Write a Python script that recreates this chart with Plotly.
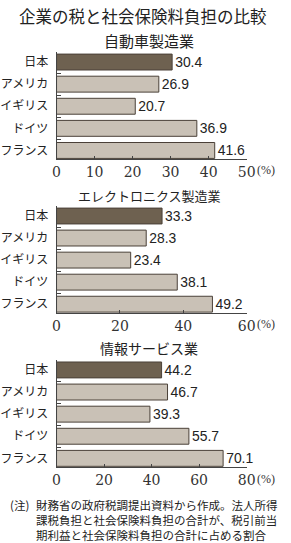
import plotly.graph_objects as go

W, H = 291, 543

countries = ["日本", "アメリカ", "イギリス", "ドイツ", "フランス"]
auto_vals = [30.4, 26.9, 20.7, 36.9, 41.6]
elec_vals = [33.3, 28.3, 23.4, 38.1, 49.2]
info_vals = [44.2, 46.7, 39.3, 55.7, 70.1]

panel_titles = ["自動車製造業", "エレクトロニクス製造業", "情報サービス業"]
x_max = [50, 60, 80]
x_dtick = [10, 20, 20]

main_title = "企業の税と社会保険料負担の比較"
note_head = "(注)"
note_lines = ["財務省の政府税調提出資料から作成。法人所得",
              "課税負担と社会保険料負担の合計が、税引前当",
              "期利益と社会保険料負担の合計に占める割合"]

DARK = "#6e6150"
LIGHT = "#c9c1b6"
EDGE = "#4a4038"
JP = "Noto Sans CJK JP"
SERIF = "DejaVu Serif"

def py(p):
    return 1 - p / H

# pixel layout (top, bottom) of each plot area
y_px = [(52.1, 159.3), (206.1, 313.0), (360.0, 467.2)]
x_dom = [55 / W, 254 / W]
title_px = [40, 195, 348]
ticklab_px = [169.5, 323.5, 478.5]
title_sizes = [15, 13, 14]

fig = go.Figure()
series = [auto_vals, elec_vals, info_vals]
for i, vals in enumerate(series):
    sfx = "" if i == 0 else str(i + 1)
    fig.add_trace(go.Bar(
        x=vals, y=countries, orientation="h",
        marker=dict(color=[DARK] + [LIGHT] * 4, line=dict(color=EDGE, width=1)),
        width=0.72,
        text=[f"{v:.1f}" for v in vals], textposition="outside",
        textfont=dict(family="Liberation Sans", size=14, color="#222"),
        cliponaxis=False,
        xaxis="x" + sfx, yaxis="y" + sfx, showlegend=False,
    ))
    top, bot = y_px[i]
    fig.update_layout(**{
        "xaxis" + sfx: dict(
            domain=x_dom, range=[0, x_max[i]], dtick=x_dtick[i], tick0=0,
            anchor="y" + sfx, showgrid=False, zeroline=False,
            showline=True, linecolor="#444", linewidth=1,
            ticks="inside", ticklen=3, tickcolor="#444",
            tickfont=dict(family=SERIF, size=14, color="#333"),
            fixedrange=True,
        ),
        "yaxis" + sfx: dict(
            domain=[py(bot), py(top)], range=[4.4, -0.45],
            anchor="x" + sfx, type="category",
            showgrid=False, zeroline=False,
            showline=True, linecolor="#444", linewidth=1,
            ticks="inside", ticklen=4, tickcolor="#444", tickson="boundaries",
            ticklabelstandoff=5,
            tickfont=dict(family=JP, size=12, color="#222"),
            fixedrange=True,
        ),
    })

annotations = [
    dict(text=main_title, x=145 / W, y=py(16), xref="paper", yref="paper",
         showarrow=False, xanchor="center", yanchor="middle",
         font=dict(family=JP, size=16.5, color="#222")),
]
for i, t in enumerate(panel_titles):
    annotations.append(dict(text=t, x=152 / W, y=py(title_px[i]), xref="paper", yref="paper",
                            showarrow=False, xanchor="center", yanchor="middle",
                            font=dict(family=JP, size=title_sizes[i], color="#222")))
    sfx = "" if i == 0 else str(i + 1)
    annotations.append(dict(text="(%)", x=x_max[i], xref="x" + sfx, xshift=8,
                            y=py(ticklab_px[i]), yref="paper",
                            showarrow=False, xanchor="left", yanchor="middle",
                            font=dict(family="Liberation Serif", size=12, color="#333")))

annotations.append(dict(text=note_head, x=4 / W, y=py(505), xref="paper", yref="paper",
                        showarrow=False, xanchor="left", yanchor="middle",
                        font=dict(family=JP, size=11.5, color="#222")))
annotations.append(dict(text="<br>".join(note_lines), x=31 / W, y=py(520),
                        xref="paper", yref="paper", align="left",
                        showarrow=False, xanchor="left", yanchor="middle",
                        font=dict(family=JP, size=11.5, color="#222")))

fig.update_layout(
    width=W, height=H, margin=dict(l=0, r=0, t=0, b=0),
    paper_bgcolor="white", plot_bgcolor="white",
    annotations=annotations, bargap=0.28,
)

fig.write_html("out.html", config={"displayModeBar": False})
